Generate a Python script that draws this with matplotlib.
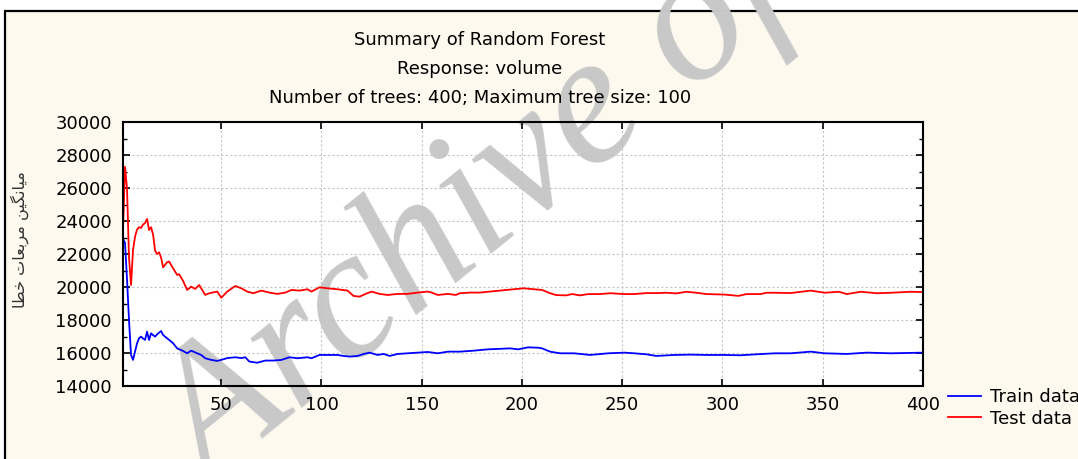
import matplotlib
matplotlib.use('Agg')
import matplotlib.pyplot as plt
from matplotlib.patches import Rectangle
from matplotlib.ticker import MultipleLocator

# values (number of trees -> mean squared error)
train_x = [1, 2, 3, 4, 5, 6, 7, 8, 9, 10, 11, 12, 13, 14, 15, 16, 17, 18, 20, 21,
           23, 24, 26, 28, 31, 33, 35, 38, 40, 42, 45, 48, 50, 53, 57, 60, 62, 64,
           68, 72, 76, 80, 84, 88, 93, 95, 99, 103, 108, 111, 114, 118, 121, 124,
           128, 131, 134, 138, 143, 148, 153, 158, 163, 169, 176, 183, 189, 194,
           198, 203, 208, 210, 214, 219, 226, 234, 243, 251, 256, 262, 267, 276,
           284, 292, 301, 309, 317, 326, 334, 344, 351, 362, 372, 384, 400]
train_mse = [22930, 22700, 20500, 18000, 15900, 15600, 16100, 16600, 16910, 17010,
             16900, 16810, 17310, 16810, 17210, 17100, 17010, 17150, 17350, 17110,
             16910, 16810, 16610, 16300, 16140, 16000, 16160, 16000, 15900, 15700,
             15600, 15540, 15600, 15710, 15760, 15710, 15760, 15500, 15430, 15560,
             15560, 15600, 15760, 15700, 15760, 15700, 15900, 15900, 15900, 15840,
             15800, 15840, 15960, 16040, 15900, 15960, 15840, 15960, 16000, 16040,
             16080, 16000, 16100, 16100, 16160, 16240, 16270, 16300, 16240, 16360,
             16340, 16300, 16100, 16000, 16000, 15900, 16000, 16040, 16000, 15940,
             15840, 15900, 15920, 15900, 15900, 15880, 15940, 16000, 16000, 16100,
             16000, 15960, 16040, 16000, 16040]

test_x = [1, 2, 3, 4, 5, 6, 7, 8, 9, 10, 11, 12, 13, 14, 15, 16, 17, 18, 19, 20,
          21, 23, 24, 26, 28, 29, 31, 33, 35, 37, 39, 42, 44, 48, 50, 53, 57, 60,
          63, 66, 70, 74, 78, 82, 85, 89, 93, 95, 99, 103, 108, 113, 116, 119, 122,
          125, 129, 133, 138, 143, 148, 153, 155, 158, 163, 167, 169, 174, 179, 184,
          189, 194, 201, 206, 210, 214, 217, 222, 225, 229, 233, 239, 244, 251, 256,
          262, 268, 272, 277, 282, 287, 292, 301, 308, 312, 319, 322, 326, 334, 344,
          351, 358, 362, 369, 377, 384, 394, 400]
test_mse = [23430, 27300, 26000, 21800, 20140, 22260, 23070, 23500, 23640, 23600,
            23800, 23900, 24140, 23470, 23640, 23200, 22220, 22020, 22120, 21800,
            21210, 21520, 21560, 21150, 20750, 20790, 20380, 19840, 20040, 19900,
            20140, 19540, 19640, 19740, 19370, 19740, 20080, 19940, 19740, 19640,
            19800, 19680, 19600, 19680, 19840, 19800, 19880, 19740, 20000, 19940,
            19880, 19800, 19475, 19435, 19600, 19740, 19600, 19535, 19600, 19600,
            19680, 19740, 19680, 19535, 19600, 19535, 19640, 19680, 19680, 19740,
            19800, 19860, 19940, 19880, 19840, 19640, 19530, 19510, 19590, 19510,
            19590, 19590, 19640, 19590, 19590, 19650, 19650, 19670, 19630, 19730,
            19670, 19590, 19560, 19480, 19590, 19590, 19670, 19670, 19650, 19800,
            19670, 19730, 19590, 19730, 19640, 19670, 19730, 19710]

title_lines = ['Summary of Random Forest',
               'Response: volume',
               'Number of trees: 400; Maximum tree size: 100']
# "میانگین مربعات خطا" in pre-shaped presentation forms, visual order
ylabel = ('\uFE8E\uFEC4\uFEA7 \uFE95\uFE8E\uFECC\uFE91\uFEAE\uFEE3 '
          '\uFEE6\uFBFF\uFB95\uFEE7\uFE8E\uFBFF\uFEE3')

W, H = 1078, 459
fig = plt.figure(figsize=(W / 100, H / 100), dpi=100)
fig.patch.set_facecolor('white')

# cream panel with black frame
panel = Rectangle((5 / W, -0.2), 1.2, 1 - 11 / H + 0.2, transform=fig.transFigure,
                  facecolor='#fdf9ee', edgecolor='black', linewidth=1.6, zorder=0)
fig.patches.append(panel)

# watermark
fig.text(210 / W, 1 - 490 / H, 'Archive of SID', fontsize=134, family='Liberation Serif',
         style='italic', color='#c8c8c8', rotation=39, rotation_mode='anchor',
         ha='left', va='baseline', zorder=0.5)

ax = fig.add_axes([123 / W, 1 - 386.3 / H, 800 / W, 264 / H])
ax.set_facecolor('none')
bg = Rectangle((123 / W, 1 - 386.3 / H), 800 / W, 264 / H, transform=fig.transFigure,
               facecolor='white', edgecolor='none', zorder=0.2)
fig.patches.append(bg)
ax.set_zorder(1)

ax.plot(train_x, train_mse, color='#0000ff', lw=1.3, label='Train data')
ax.plot(test_x, test_mse, color='#ff0000', lw=1.3, label='Test data')

ax.set_xlim(1, 400)
ax.set_ylim(14000, 30000)
ax.set_xticks(range(50, 401, 50))
ax.set_yticks(range(14000, 30001, 2000))
ax.yaxis.set_minor_locator(MultipleLocator(1000))
ax.grid(True, which='major', color='#c4c4c4', linestyle=(0, (2, 2)), linewidth=0.8)
ax.tick_params(axis='both', which='both', direction='in', top=True, right=True,
               labelsize=13, colors='black')
ax.tick_params(axis='y', which='major', length=5, width=1.2, pad=8)
ax.tick_params(axis='y', which='minor', length=3, width=1.0)
ax.tick_params(axis='x', which='major', length=5, width=1.2, pad=7)
for s in ax.spines.values():
    s.set_linewidth(1.5)
    s.set_color('black')

for txt, yy in zip(title_lines, [40, 69, 98]):
    fig.text(480 / W, 1 - yy / H, txt, ha='center', va='center', fontsize=13)

fig.text(20 / W, 1 - 240 / H, ylabel, rotation=90, ha='center', va='center',
         fontsize=11.5, color='#333333', family='DejaVu Sans')

ax.legend(loc='upper left', bbox_to_anchor=(948 / W, 1 - 388 / H),
          bbox_transform=fig.transFigure, frameon=False, fontsize=13,
          handlelength=1.8, handletextpad=0.55, labelspacing=0.2,
          borderpad=0, borderaxespad=0)

fig.savefig('out.png', dpi=100, facecolor=fig.get_facecolor())
